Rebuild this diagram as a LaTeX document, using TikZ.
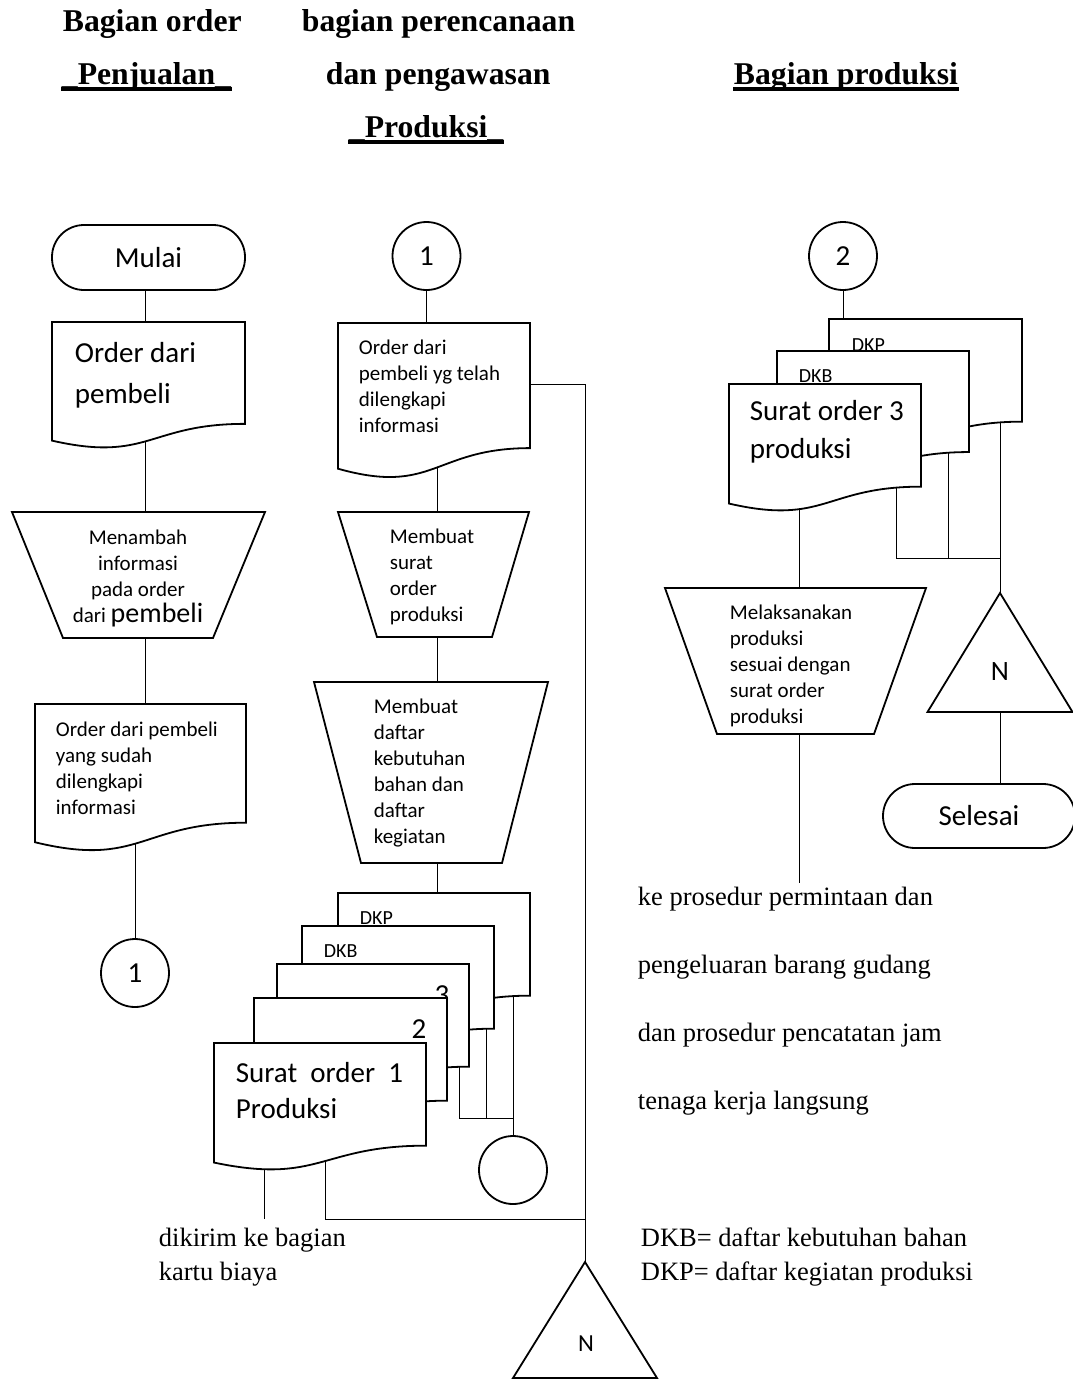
\documentclass[tikz,border=0pt]{standalone}
\usepackage{fontspec}
\setmainfont{Liberation Serif}
\newfontfamily\calibri{Carlito}
\usetikzlibrary{backgrounds}

% dokumen: nama, x, y, lebar, tinggi
\newcommand{\dokumen}[5]{%
  \draw[fill=white] (#2,#3) -- ({#2+#4},#3) -- ({#2+#4},{#3+0.802*#5})
    .. controls ({#2+0.5*#4},{#3+0.802*#5}) and ({#2+0.5*#4},{#3+1.1075*#5})
    .. (#2,{#3+0.934*#5}) -- cycle;
  \coordinate (#1) at ({#2+0.5*#4},{#3+0.5*#5});
}
% trapesium: nama, y atas, x1, x2, y bawah, x3, x4
\newcommand{\trapesium}[7]{%
  \draw[fill=white] (#3,#2) -- (#4,#2) -- (#7,#5) -- (#6,#5) -- cycle;
  \coordinate (#1-n) at ({0.5*(#3+#4)},#2);
  \coordinate (#1-s) at ({0.5*(#6+#7)},#5);
}
% segitiga: nama, x puncak, y puncak, setengah alas, tinggi
\newcommand{\segitiga}[5]{%
  \draw[fill=white] (#2,#3) -- ({#2+#4},{#3+#5}) -- ({#2-#4},{#3+#5}) -- cycle;
  \coordinate (#1-n) at (#2,#3);
  \coordinate (#1-s) at (#2,{#3+#5});
}

\begin{document}
\begin{tikzpicture}[x=1pt,y=-1pt,line width=1.8pt,
  judul/.style={font=\bfseries\fontsize{31.7}{38}\selectfont,anchor=base west,inner sep=0pt},
  garis/.style={line width=4pt},
  teks/.style={font=\calibri\fontsize{21}{26}\selectfont,align=left,anchor=base west,inner sep=0pt},
  teksbesar/.style={font=\calibri\fontsize{29}{41}\selectfont,align=left,anchor=base west,inner sep=0pt},
  kecil/.style={font=\calibri\fontsize{20}{24}\selectfont,anchor=base west,inner sep=0pt},
  ket/.style={font=\fontsize{26.5}{34}\selectfont,align=left,anchor=base west,inner sep=0pt},
  lingkaran/.style={draw,circle,minimum size=68pt,inner sep=0pt,font=\calibri\fontsize{29}{35}\selectfont},
  terminal/.style={draw,rounded corners=32pt,minimum width=193pt,minimum height=65pt,font=\calibri\fontsize{29}{35}\selectfont}]
\useasboundingbox (0,0) rectangle (1073,1384);

% judul
\node[judul] (j1) at (62,31) {Bagian order};
\node[judul] (j2) at (301,31) {bagian perencanaan};
\node[judul] (j3) at (61,84) {\_Penjualan\_};
\node[judul] (j4) at (325,84) {dan pengawasan};
\node[judul] (j5) at (733,84) {Bagian produksi};
\node[judul] (j6) at (348,137) {\_Produksi\_};
\draw[garis] ([yshift=-5pt]j3.base west) -- ([yshift=-5pt]j3.base east);
\draw[garis] ([yshift=-5pt]j5.base west) -- ([yshift=-5pt]j5.base east);
\draw[garis] ([yshift=-5pt]j6.base west) -- ([yshift=-5pt]j6.base east);

% bagian order penjualan (base = baris terakhir)
\node[terminal] (mulai) at (148.5,257.5) {Mulai};
\dokumen{od1}{52}{322}{193}{127}
\node[teksbesar] (od1t) at (74,403) {Order dari\\pembeli};
\trapesium{t1}{512}{12}{265}{638}{63}{213}
\node[teks,align=center,anchor=base] (t1t) at (138,622) {Menambah\\informasi\\pada order\\dari {\fontsize{28}{26}\selectfont pembeli}};
\dokumen{od2}{35}{704}{211}{148}
\node[teks] (od2t) at (55,814) {Order dari pembeli\\yang sudah\\dilengkapi\\informasi};
\node[lingkaran] (c1) at (135,973) {1};
\coordinate (k1) at (145,300);

% bagian perencanaan dan pengawasan produksi
\node[lingkaran] (c1a) at (426.5,256) {1};
\dokumen{od3}{338}{323}{192}{156}
\node[teks] (od3t) at (358,432) {Order dari\\pembeli yg telah\\dilengkapi\\informasi};
\trapesium{t2}{512}{338}{529}{637}{377}{492}
\node[teks] (t2t) at (389,621) {Membuat\\surat\\order\\produksi};
\trapesium{t3}{682}{314}{548}{863}{361}{502}
\node[teks] (t3t) at (373,843) {Membuat\\daftar\\kebutuhan\\bahan dan\\daftar\\kegiatan};
\dokumen{dkp}{338}{893}{192}{128}
\node[kecil] (dkpt) at (359,924) {DKP};
\dokumen{dkb}{302}{926}{192}{128}
\node[kecil] (dkbt) at (323,957) {DKB};
\dokumen{so3}{277}{964}{192}{128}
\node[teksbesar,anchor=base] (so3t) at (442,1004) {3};
\dokumen{so2}{254}{998}{193}{128}
\node[teksbesar,anchor=base] (so2t) at (419,1038) {2};
\dokumen{so1}{214}{1043}{212}{128}
\node[teksbesar,font=\calibri\fontsize{29}{36}\selectfont] (so1t) at (235,1118) {Surat\ \ order\ \ 1\\Produksi};
\node[lingkaran] (cb) at (513,1170) {};
\segitiga{nb}{585}{1262}{72}{116}
\node[font=\calibri\fontsize{24.5}{30}\selectfont,anchor=base,inner sep=0pt] (nbt) at (586,1351) {N};
\coordinate (sambung) at (585,384);
\coordinate (j2k) at (585,1219);
\coordinate (kb) at (264,1219);
\coordinate (so1k) at (325,1110);
\coordinate (dkpk) at (513,950);
\coordinate (dkbk) at (486,990);
\coordinate (so3k) at (459,1030);
\coordinate (jn) at (513,1118);
\coordinate (m1) at (437,400);
\node[ket] (kirim) at (158,1280) {dikirim ke bagian\\kartu biaya};
\node[ket] (ketdk) at (640,1280) {DKB= daftar kebutuhan bahan\\DKP= daftar kegiatan produksi};

% bagian produksi
\node[lingkaran] (c2) at (843,256) {2};
\dokumen{r1}{829}{319}{193}{128}
\node[kecil] (r1t) at (851,351) {DKP};
\dokumen{r2}{777}{351}{192}{126}
\node[kecil] (r2t) at (798,382) {DKB};
\dokumen{r3}{729}{384}{192}{128}
\node[teksbesar,font=\calibri\fontsize{29}{38}\selectfont] (r3t) at (749,458) {Surat order 3\\produksi};
\trapesium{t4}{588}{665}{926}{734}{717}{874}
\node[teks] (t4t) at (729,723) {Melaksanakan\\produksi\\sesuai dengan\\surat order\\produksi};
\segitiga{nr}{1000}{593}{72.5}{119}
\node[font=\calibri\fontsize{28}{34}\selectfont,anchor=base,inner sep=0pt] (nrt) at (1000,680) {N};
\node[terminal,minimum width=192pt,minimum height=64pt] (selesai) at (979,816) {Selesai};
\coordinate (r1k) at (1000,380);
\coordinate (r2k) at (948,420);
\coordinate (r3k) at (896,450);
\coordinate (r3b) at (799,450);
\coordinate (jr) at (1000,558);
\coordinate (kp) at (799,883);
\node[ket,font=\fontsize{26.5}{68}\selectfont] (prosedur) at (637,1109) {ke prosedur permintaan dan\\pengeluaran barang gudang\\dan prosedur pencatatan jam\\tenaga kerja langsung};

\begin{pgfonlayer}{background}
\draw (mulai.south -| k1) -- (k1 |- od2);
\draw (c1.north) -- (c1.north |- od2);
\draw (c1a.south) -- (c1a.south |- od3);
\draw (m1) -- (m1 |- dkp);
\draw (od3 |- sambung) -- (sambung) -- (nb-n);
\draw (dkpk) -- (cb.north);
\draw (dkbk) -- (dkbk |- jn);
\draw (so3k) |- (jn);
\draw (kb |- so1) -- (kb);
\draw (so1k) |- (j2k);
\draw (c2.south) -- (c2.south |- r1);
\draw (r1k) -- (nr-n);
\draw (r2k) -- (r2k |- jr);
\draw (r3k) |- (jr);
\draw (r3b) -- (kp);
\draw (nr-s) -- (nr-s |- selesai.north);
\end{pgfonlayer}
\end{tikzpicture}
\end{document}
